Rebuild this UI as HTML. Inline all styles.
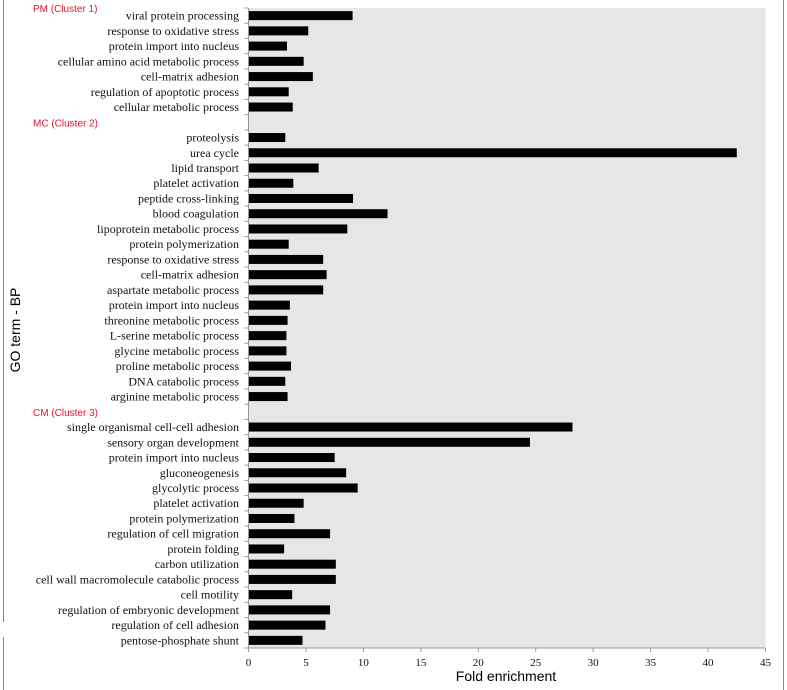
<!DOCTYPE html>
<html><head><meta charset="utf-8"><style>
html,body{margin:0;padding:0;background:#fff;width:787px;height:690px;overflow:hidden}
svg text{font-family:"Liberation Serif",serif}
</style></head><body>
<svg id="chart" width="787" height="690" xmlns="http://www.w3.org/2000/svg">
<line x1="3.5" y1="0" x2="3.5" y2="622" stroke="#888" stroke-width="1"/>
<line x1="3.5" y1="637" x2="3.5" y2="690" stroke="#888" stroke-width="1"/>
<line x1="783.5" y1="0" x2="783.5" y2="690" stroke="#888" stroke-width="1"/>
<rect x="248.5" y="8" width="517" height="640" fill="#e6e6e6"/>
<g id="bars"></g>
<text transform="translate(20,330) rotate(-90)" text-anchor="middle" font-size="14" style="font-family:'Liberation Sans',sans-serif">GO term - BP</text>
<text x="506" y="681" text-anchor="middle" font-size="14" style="font-family:'Liberation Sans',sans-serif">Fold enrichment</text>
</svg>
<script>
const clusterNames = ["PM (Cluster 1)", "MC (Cluster 2)", "CM (Cluster 3)"];
const pmTerms = ["viral protein processing","response to oxidative stress","protein import into nucleus","cellular amino acid metabolic process","cell-matrix adhesion","regulation of apoptotic process","cellular metabolic process"];
const pmValues = [9.06,5.2,3.35,4.8,5.6,3.5,3.85];
const mcTerms = ["proteolysis","urea cycle","lipid transport","platelet activation","peptide cross-linking","blood coagulation","lipoprotein metabolic process","protein polymerization","response to oxidative stress","cell-matrix adhesion","aspartate metabolic process","protein import into nucleus","threonine metabolic process","L-serine metabolic process","glycine metabolic process","proline metabolic process","DNA catabolic process","arginine metabolic process"];
const mcValues = [3.2,42.5,6.1,3.9,9.1,12.1,8.6,3.5,6.5,6.8,6.5,3.6,3.4,3.3,3.3,3.7,3.2,3.4];
const cmTerms = ["single organismal cell-cell adhesion","sensory organ development","protein import into nucleus","gluconeogenesis","glycolytic process","platelet activation","protein polymerization","regulation of cell migration","protein folding","carbon utilization","cell wall macromolecule catabolic process","cell motility","regulation of embryonic development","regulation of cell adhesion","pentose-phosphate shunt"];
const cmValues = [28.2,24.5,7.5,8.5,9.5,4.8,4.0,7.1,3.1,7.6,7.6,3.8,7.1,6.7,4.7];
const xTicks = [0,5,10,15,20,25,30,35,40,45];

const NS = "http://www.w3.org/2000/svg";
const svgEl = document.getElementById("chart");
const barsG = document.getElementById("bars");
const x0 = 248.5, x1 = 765.5, xMax = 45;
const yTop = 8, yBottom = 648, nSlots = 42;
const step = (yBottom - yTop) / nSlots;
const xs = v => x0 + (v / xMax) * (x1 - x0);
const ys = i => yTop + step * (i + 0.5);
function mk(tag, attrs){const e=document.createElementNS(NS,tag);for(const k in attrs)e.setAttribute(k,attrs[k]);return e;}

const groups = [[pmTerms,pmValues],[mcTerms,mcValues],[cmTerms,cmValues]];
let slot = 0;
groups.forEach((grp, gi) => {
  let labY;
  if (gi > 0) { labY = ys(slot) + 4; slot++; } else { labY = 12; }
  const lab = mk("text",{x:33,y:labY,"font-size":10,fill:"#e8112d",style:"font-family:'Liberation Sans',sans-serif"});
  
  
  lab.textContent = clusterNames[gi];
  svgEl.appendChild(lab);
  grp[0].forEach((t, i) => {
    const y = ys(slot);
    const r = mk("rect",{x:x0,y:y-4.5,width:xs(grp[1][i])-x0,height:9,fill:"#000"});
    
    
    barsG.appendChild(r);
    const tx = mk("text",{x:239,y:y+4,"text-anchor":"end","font-size":12,fill:"#111"});
    
    
    tx.textContent = t;
    svgEl.appendChild(tx);
    slot++;
  });
});
for (let i = 0; i <= nSlots; i++) {
  const tk = mk("line",{x1:244.5,x2:248.5,y1:yTop+step*i,y2:yTop+step*i,stroke:"#999"});
  
  
  svgEl.appendChild(tk);
}
const ya = mk("line",{x1:248.5,x2:248.5,y1:yTop,y2:yBottom,stroke:"#999"});


svgEl.appendChild(ya);
const xa = mk("line",{x1:x0,x2:x1,y1:yBottom,y2:yBottom,stroke:"#999"});


svgEl.appendChild(xa);
xTicks.forEach(v => {
  const tk = mk("line",{x1:xs(v),x2:xs(v),y1:yBottom,y2:yBottom+4,stroke:"#999"});
  
  
  svgEl.appendChild(tk);
  const tl = mk("text",{x:xs(v),y:yBottom+18,"text-anchor":"middle","font-size":11,fill:"#111"});
  
  
  tl.textContent = v;
  svgEl.appendChild(tl);
});
</script>
</body></html>
